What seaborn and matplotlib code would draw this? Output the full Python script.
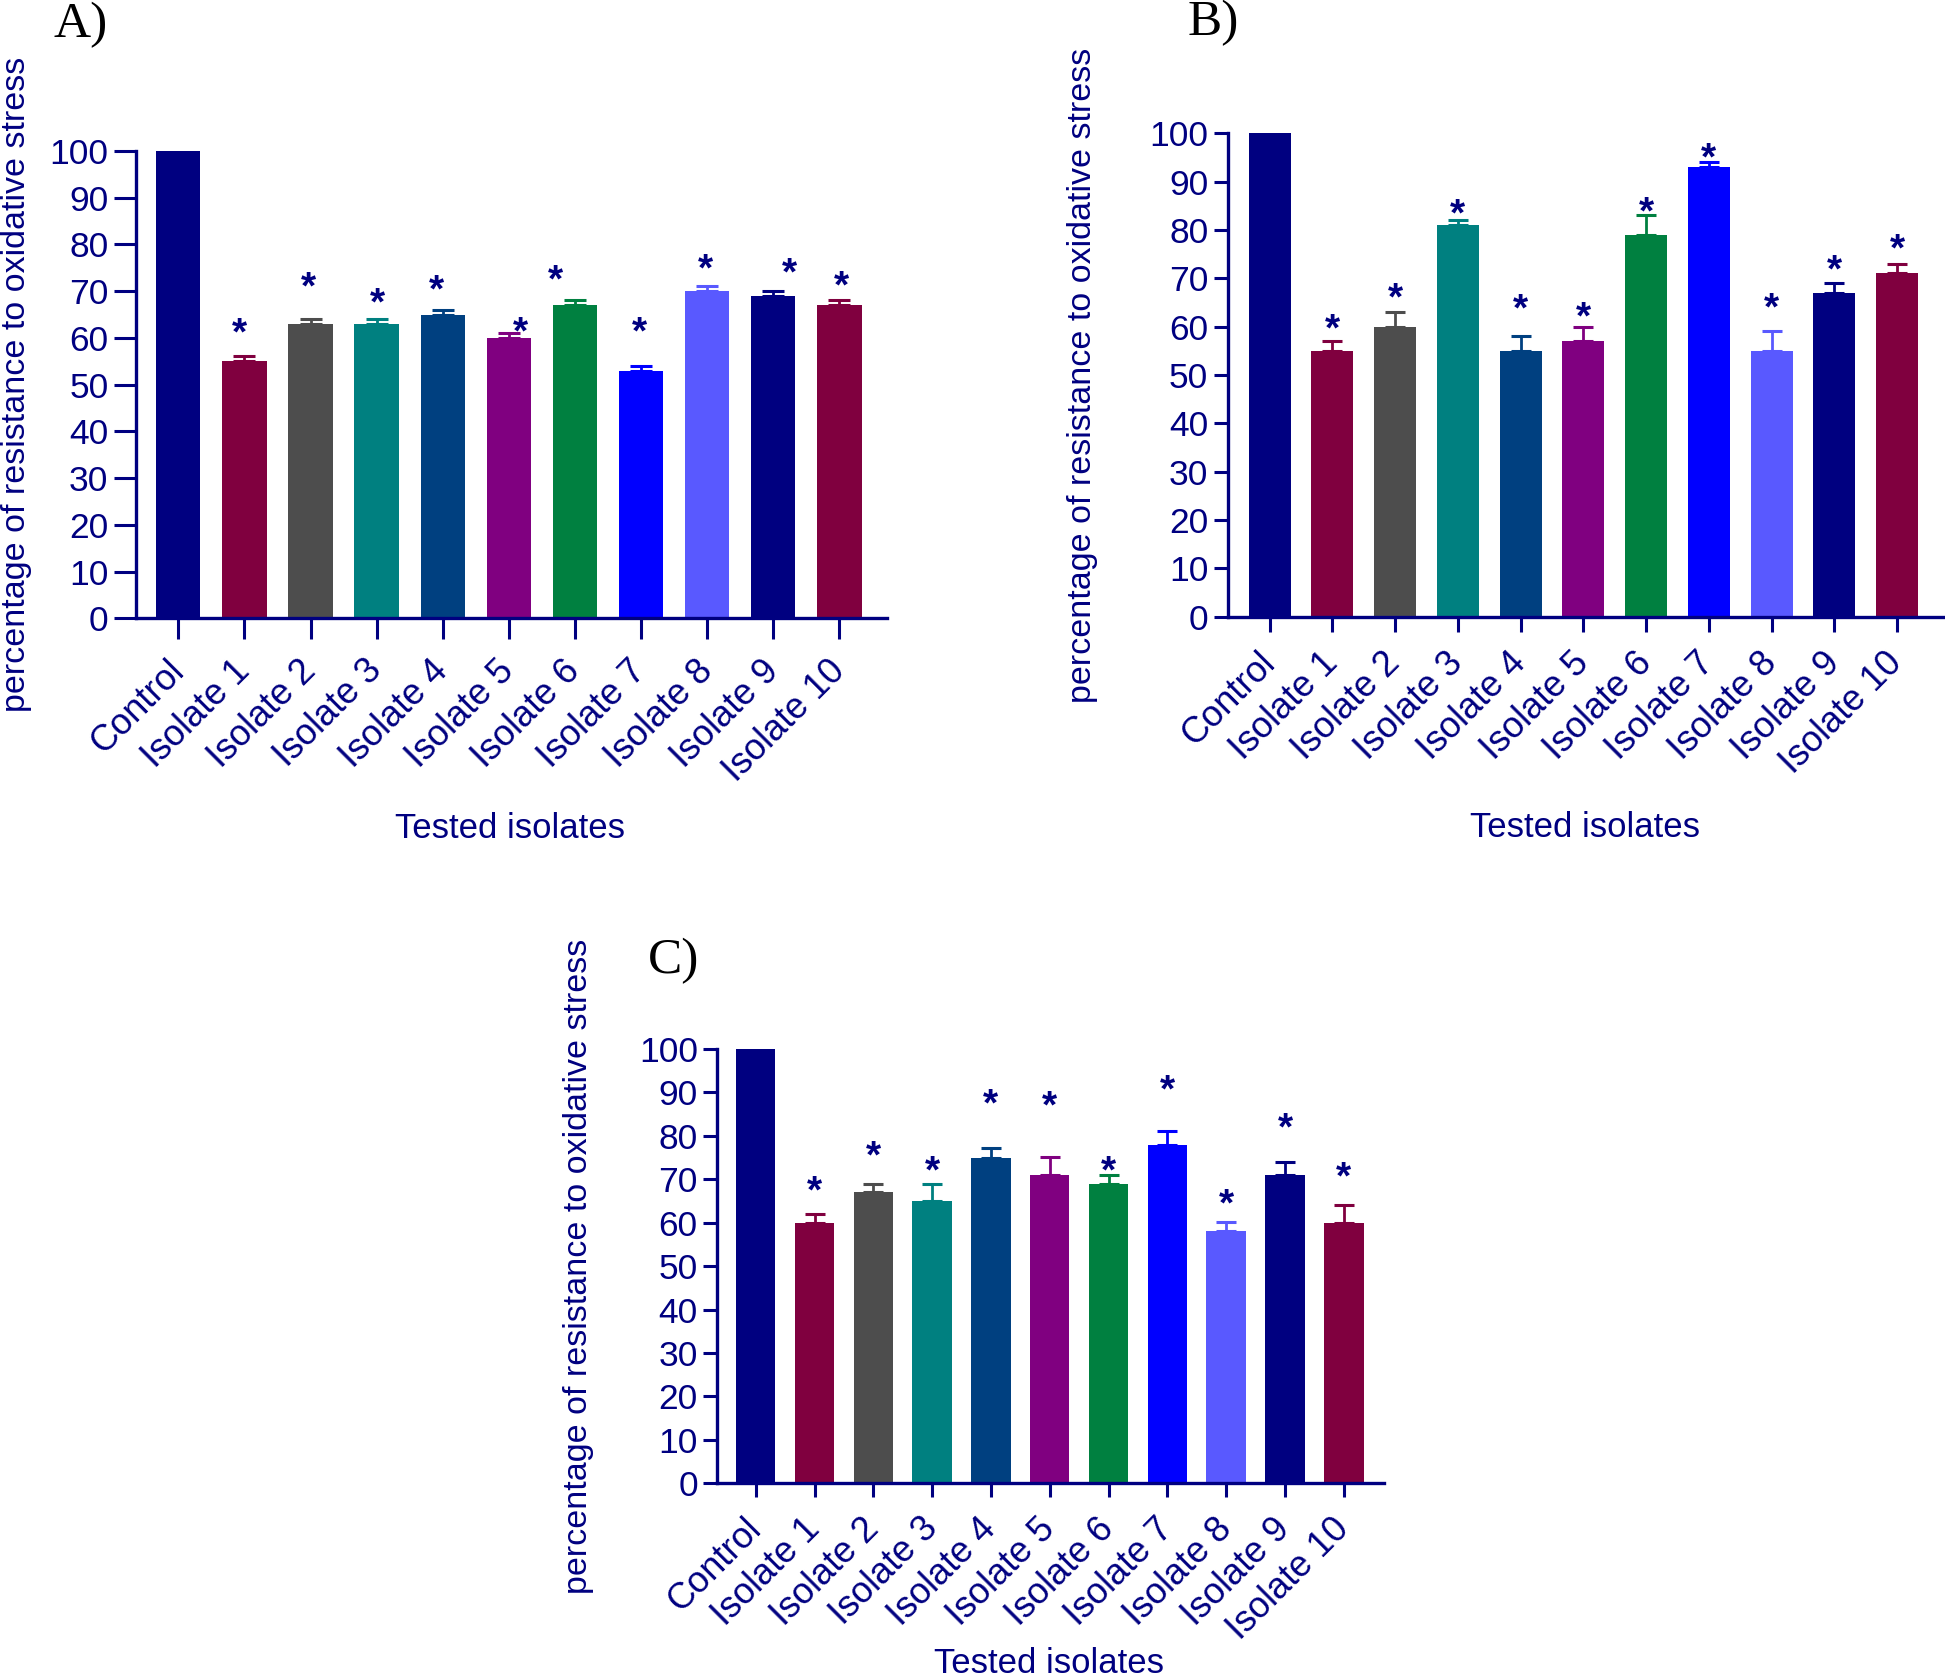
import numpy as np
import pandas as pd
import seaborn as sns
import matplotlib.pyplot as plt

# ---- data ----
groups = ["Control", "Isolate 1", "Isolate 2", "Isolate 3", "Isolate 4", "Isolate 5",
          "Isolate 6", "Isolate 7", "Isolate 8", "Isolate 9", "Isolate 10"]
bar_colors = ["#000080", "#80003F", "#4D4D4D", "#008080", "#004080", "#800080",
              "#008040", "#0000FF", "#5959FF", "#000080", "#80003F"]

val_a = [100, 55, 63, 63, 65, 60, 67, 53, 70, 69, 67]
err_a = [0, 1.2, 1.0, 1.0, 1.0, 1.1, 1.1, 1.0, 1.1, 1.0, 1.1]
star_a = [None, 63.2, 73, 69.7, 72.4, 63.5, 74.5, 63.5, 77, 76, 73.3]
star_shift_a = [0, -0.07, -0.03, 0.02, -0.1, 0.18, -0.29, -0.03, -0.03, 0.24, 0.03]

val_b = [100, 55, 60, 81, 55, 57, 79, 93, 55, 67, 71]
err_b = [0, 2, 3, 1, 3, 3, 4, 1, 4, 2, 2]
star_b = [None, 61.5, 68, 85.3, 65.8, 64, 85.8, 97, 66, 73.8, 78.2]

val_c = [100, 60, 67, 65, 75, 71, 69, 78, 58, 71, 60]
err_c = [0, 2, 2, 4, 2.1, 4.1, 2, 3.1, 2.1, 3, 4]
star_c = [None, 69.5, 77.7, 74.2, 89.7, 89.2, 74.2, 92.9, 66.7, 84.2, 72.9]

y_ticks = list(range(0, 101, 10))
y_title = "percentage of resistance to oxidative stress"
x_title = "Tested isolates"

TXT = "#000080"
W, H = 1945, 1677

sns.set_style("ticks")
plt.rcParams["font.family"] = ["Liberation Sans", "DejaVu Sans"]

fig = plt.figure(figsize=(W / 100, H / 100), dpi=100)


def fx(px):
    return px / W


def fy(py):
    return 1 - py / H


def panel(box, xlim, vals, errs, stars, letter, letter_xy, ylab_x, xlab_xy,
          ytick_len, xtick_len, capsize, shifts=None):
    left, top, right, bottom = box
    ax = fig.add_axes([fx(left), fy(bottom), fx(right - left), (bottom - top) / H])
    df = pd.DataFrame({"group": groups, "value": vals})
    sns.barplot(data=df, x="group", y="value", hue="group", palette=bar_colors,
                saturation=1, width=0.67, legend=False, errorbar=None,
                linewidth=0, ax=ax)
    for i, (v, e) in enumerate(zip(vals, errs)):
        if e > 0:
            ax.errorbar(i, v, yerr=[[0], [e]], fmt="none", ecolor=bar_colors[i],
                        elinewidth=2.0, capsize=capsize, capthick=2.2, zorder=3)
    for i, s in enumerate(stars):
        if s is None:
            continue
        dx = shifts[i] if shifts else 0
        ax.annotate("*", xy=(i + dx, s), xytext=(0, -15.5), textcoords="offset points",
                    ha="center", va="baseline", fontsize=28, fontweight="bold",
                    color=TXT, annotation_clip=False)
    ax.set_xlim(*xlim)
    ax.set_ylim(0, 100)
    ax.set_yticks(y_ticks)
    ax.set_xticks(range(len(groups)))
    ax.set_xticklabels(groups, rotation=45, ha="right", va="center",
                       rotation_mode="anchor")
    sns.despine(ax=ax)
    for sp in ("left", "bottom"):
        ax.spines[sp].set_color(TXT)
        ax.spines[sp].set_linewidth(2.4)
    ax.tick_params(axis="y", colors=TXT, labelsize=25.5, length=ytick_len, width=2.2,
                   pad=4)
    ax.tick_params(axis="x", colors=TXT, labelsize=26, length=xtick_len, width=2.2,
                   pad=19)
    ax.set_ylabel(y_title, fontsize=24.5, color=TXT)
    ax.yaxis.label.set(ha="center", va="center", rotation_mode="default")
    ax.yaxis.set_label_coords(fx(ylab_x), fy((top + bottom) / 2),
                              transform=fig.transFigure)
    ax.set_xlabel(x_title, fontsize=25, color=TXT)
    ax.xaxis.label.set(ha="center", va="baseline")
    ax.xaxis.set_label_coords(fx(xlab_xy[0]), fy(xlab_xy[1]),
                              transform=fig.transFigure)
    fig.text(fx(letter_xy[0]), fy(letter_xy[1]), letter, family="Liberation Serif",
             fontsize=37, ha="left", va="baseline", color="black")
    return ax


panel((136, 151, 887, 618.3), (-0.64, 10.72), val_a, err_a, star_a, "A)", (53, 37),
      16.7, (510, 838), 15.8, 15, 7.8, star_shift_a)
panel((1227.7, 133.3, 1943, 616.7), (-0.667, 10.73), val_b, err_b, star_b, "B)",
      (1187.7, 35), 1082.7, (1585, 837), 10, 10.8, 7.4)
panel((717.3, 1049, 1383.8, 1483.2), (-0.653, 10.68), val_c, err_c, star_c, "C)",
      (647.5, 973.6), 578.7, (1049, 1673), 10, 10, 6.9)

fig.savefig("out.png", dpi=100)
